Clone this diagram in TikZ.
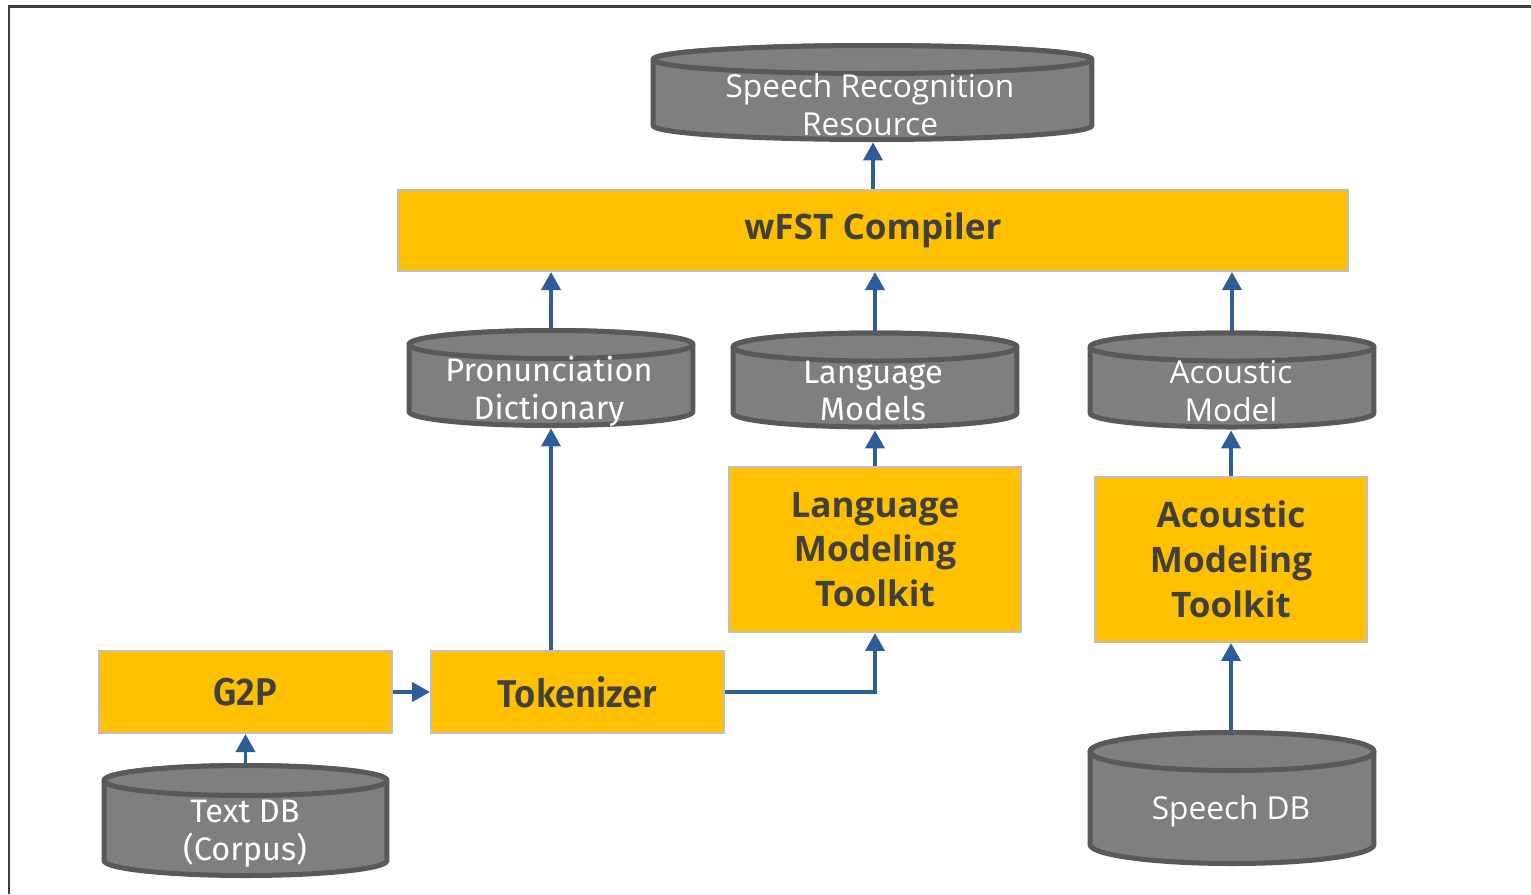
\documentclass[tikz,border=0pt]{standalone}
\usepackage{fontspec}
\setmainfont{Open Sans}
\newfontfamily\dinfont{Fira Sans}
\newfontfamily\dinbold[FakeStretch=0.94]{Fira Sans SemiBold}
\usetikzlibrary{arrows.meta}
\definecolor{boxyellow}{HTML}{FFC000}
\definecolor{boxline}{HTML}{BFBFBF}
\definecolor{dbfill}{HTML}{7F7F7F}
\definecolor{dbline}{HTML}{595959}
\definecolor{arrowblue}{HTML}{2E5E9A}
\definecolor{darktext}{HTML}{404040}
\definecolor{framecol}{HTML}{404040}
\tikzset{
  dbstyle/.style={fill=dbfill, draw=dbline, line width=0.1cm, line join=round},
  procbox/.style={rectangle, fill=boxyellow, draw=boxline, line width=0.04cm, inner sep=0pt, text=darktext, align=center},
  dbnode/.style={rectangle, inner sep=0pt, draw=none},
  dbtext/.style={text=white, align=center, font=\fontsize{18}{21.5}\selectfont},
  dbtextdin/.style={text=white, align=center, font=\dinfont\fontsize{18.5}{21.5}\selectfont},
  flow/.style={draw=arrowblue, line width=0.075cm, -{Triangle[width=0.38cm,length=0.36cm]}},
}
\newcommand\cylshape[5]{%
  \draw[dbstyle] ([xshift=-#4]#1,#2) -- ([xshift=-#4]#1,#3)
     arc[start angle=180,end angle=360,x radius=#4,y radius=#5]
     -- ([xshift=#4]#1,#2)
     arc[start angle=0,end angle=180,x radius=#4,y radius=#5] -- cycle;
  \draw[dbstyle] (#1,#2) ellipse[x radius=#4, y radius=#5];
}
\begin{document}
\begin{tikzpicture}[x=0.02cm,y=-0.02cm]
\useasboundingbox (0,0) rectangle (1531,894);
% frame
\draw[framecol, line width=0.06cm] (9,894) -- (9,6) -- (1531,6);

% cylinders
\cylshape{872.5}{59.5}{125.5}{4.39cm}{0.28cm}
\node[dbnode, minimum width=8.82cm, minimum height=1.98cm] (srr) at (872.5,92.5) {};
\node[dbtext] (srrt) at (870,105) {Speech Recognition\\Resource};

\cylshape{551}{344.5}{411.5}{2.84cm}{0.28cm}
\node[dbnode, minimum width=5.8cm, minimum height=2.0cm] (pd) at (551,378) {};
\node[dbtextdin] (pdt) at (549,391) {Pronunciation\\Dictionary};

\cylshape{875}{347}{413}{2.84cm}{0.28cm}
\node[dbnode, minimum width=5.8cm, minimum height=1.98cm] (lm) at (875,380.5) {};
\node[dbtextdin] (lmt) at (873,391) {Language\\Models};

\cylshape{1232}{347}{413}{2.84cm}{0.28cm}
\node[dbnode, minimum width=5.8cm, minimum height=1.98cm] (am) at (1232,380.5) {};
\node[dbtext] (amt) at (1231,391) {Acoustic\\Model};

\cylshape{245.5}{780.5}{860.5}{2.83cm}{0.3cm}
\node[dbnode, minimum width=5.78cm, minimum height=2.3cm] (tdb) at (245.5,820.5) {};
\node[dbtextdin] (tdbt) at (245,834) {Text DB\\(Corpus)};

\cylshape{1232}{751.5}{844.5}{2.84cm}{0.38cm}
\node[dbnode, minimum width=5.8cm, minimum height=2.72cm] (sdb) at (1232,798) {};
\node[dbtext] (sdbt) at (1231,811) {Speech DB};

% process boxes
\node[procbox, minimum width=19.0cm, minimum height=1.62cm, font=\bfseries\fontsize{20}{24}\selectfont] (wfst) at (873,230.5) {wFST Compiler};
\node[procbox, minimum width=5.84cm, minimum height=3.3cm, font=\bfseries\fontsize{20}{25.5}\selectfont] (lmtk) at (875,549.5) {Language\\Modeling\\Toolkit};
\node[procbox, minimum width=5.44cm, minimum height=3.3cm, font=\bfseries\fontsize{20}{25.5}\selectfont] (amtk) at (1231,559.5) {Acoustic\\Modeling\\Toolkit};
\node[procbox, minimum width=5.86cm, minimum height=1.64cm, font=\dinbold\fontsize{22}{26}\selectfont] (g2p) at (245.5,692) {G2P};
\node[procbox, minimum width=5.86cm, minimum height=1.64cm, font=\dinbold\fontsize{22}{26}\selectfont] (tok) at (577.5,692) {Tokenizer};

% connectors
\draw[flow] (wfst.north) -- (wfst.north |- srr.south);
\draw[flow] (pd.north) -- (pd.north |- wfst.south);
\draw[flow] (lm.north) -- (lm.north |- wfst.south);
\draw[flow] (am.north) -- (am.north |- wfst.south);
\draw[flow] (tok.north -| pd.south) -- (pd.south);
\draw[flow] (lmtk.north) -- (lmtk.north |- lm.south);
\draw[flow] (amtk.north) -- (amtk.north |- am.south);
\draw[flow] (sdb.north -| amtk.south) -- (amtk.south);
\draw[flow] (tdb.north) -- (tdb.north |- g2p.south);
\draw[flow] (g2p.east) -- (tok.west);
\draw[flow] (tok.east) -| (lmtk.south);
\end{tikzpicture}
\end{document}
